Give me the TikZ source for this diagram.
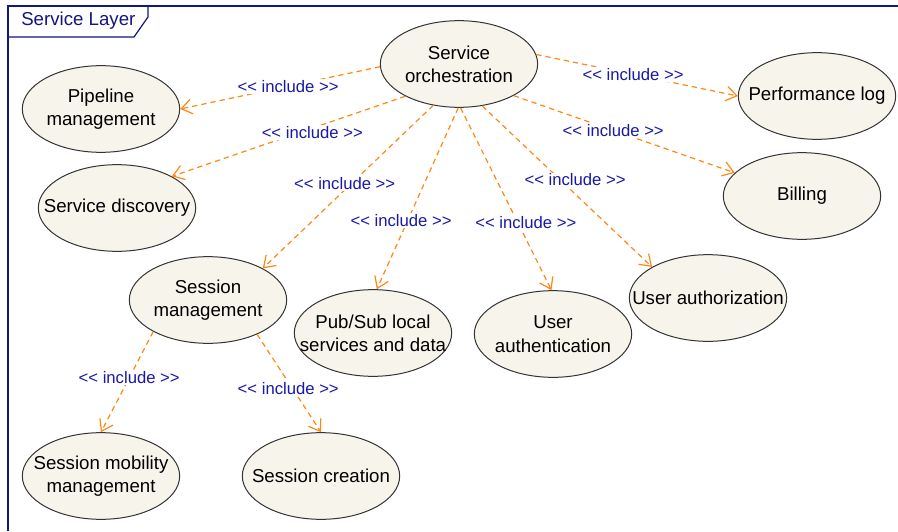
\documentclass[tikz,border=0pt]{standalone}
\usepackage{fontspec}
\setmainfont{Liberation Sans}
\usetikzlibrary{shapes.geometric,arrows.meta}
\definecolor{framecol}{RGB}{20,20,130}
\definecolor{inclcol}{RGB}{25,25,165}
\definecolor{depcol}{RGB}{255,135,20}
\definecolor{ucfill}{RGB}{246,244,235}
\tikzset{
  usecase/.style={ellipse, draw=black!80, line width=0.75pt, fill=ucfill,
    minimum width=118pt, minimum height=65pt, inner xsep=-18pt, inner ysep=0pt,
    align=center, font=\fontsize{14}{17.5}\selectfont},
  incl/.style={draw=depcol, line width=0.9pt, dash pattern=on 4pt off 3pt,
    -{Straight Barb[length=8pt,width=11pt]}},
  incltext/.style={fill=white, inner sep=1pt, text=inclcol,
    font=\fontsize{12.5}{14}\selectfont}
}
\begin{document}
\begin{tikzpicture}[x=0.75pt, y=-0.75pt]
    \useasboundingbox (0,0) rectangle (898,531);
    % frame of the layer
    \draw[framecol, line width=1.1pt] (8,531) -- (8,6) -- (898,6);
    \draw[framecol, line width=0.9pt] (8,37) -- (134,37) -- (148,17) -- (148,6);
    \node[text=framecol, anchor=west, inner sep=0pt, font=\fontsize{14}{17}\selectfont] (layer) at (21,21) {Service Layer};
    % use cases
    \node[usecase] (orch) at (459,64) {Service\\orchestration};
    \node[usecase] (pipe) at (101,109) {Pipeline\\management};
    \node[usecase] (disc) at (117,208) {Service discovery};
    \node[usecase] (sess) at (208,300) {Session\\management};
    \node[usecase] (pubsub) at (373,333) {Pub/Sub local\\services and data};
    \node[usecase] (uauth) at (553,334) {User\\authentication};
    \node[usecase] (uauthz) at (708,298) {User authorization};
    \node[usecase] (perf) at (817,96) {Performance log};
    \node[usecase] (bill) at (802,196) {Billing};
    \node[usecase] (mobil) at (101,476) {Session mobility\\management};
    \node[usecase] (create) at (321,476) {Session creation};
    % include relations
    \draw[incl] (orch.182) -- (pipe.east) node[incltext, pos=0.46] {<{}< include >{}>};
    \draw[incl] (orch.211) -- (disc.30) node[incltext, pos=0.45, xshift=9pt] {<{}< include >{}>};
    \draw[incl] (orch.238) -- (sess.30) node[incltext, pos=0.48, xshift=-5pt] {<{}< include >{}>};
    \draw[incl] (orch.269) -- (pubsub.85) node[incltext, pos=0.62, xshift=-5pt] {<{}< include >{}>};
    \draw[incl] (orch.272) -- (uauth.92) node[incltext, pos=0.63, xshift=6pt] {<{}< include >{}>};
    \draw[incl] (orch.299) -- (uauthz.151) node[incltext, pos=0.46, xshift=11pt] {<{}< include >{}>};
    \draw[incl] (orch.330) -- (bill.161) node[incltext, pos=0.45] {<{}< include >{}>};
    \draw[incl] (orch.7) -- (perf.west) node[incltext, pos=0.48] {<{}< include >{}>};
    \draw[incl] (sess.210) -- (mobil.north) node[incltext, pos=0.46] {<{}< include >{}>};
    \draw[incl] (sess.325) -- (create.north) node[incltext, pos=0.55, xshift=-3pt] {<{}< include >{}>};
\end{tikzpicture}
\end{document}
